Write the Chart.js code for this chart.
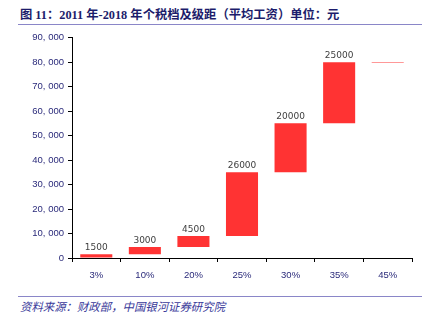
<!DOCTYPE html>
<html><head><meta charset="utf-8">
<script src="https://cdn.jsdelivr.net/npm/chart.js@4/dist/chart.umd.min.js"></script>
<style>
html,body{margin:0;padding:0;background:#fff;width:425px;height:331px;overflow:hidden;}
#title{position:absolute;left:20px;top:5px;font-family:"Liberation Serif","Noto Sans CJK SC",serif;font-weight:bold;font-size:12.3px;color:#1c1c6b;white-space:nowrap;}
#tline{position:absolute;left:18px;top:24px;width:404px;height:1px;background:#8a86c8;}
#fline{position:absolute;left:18px;top:296px;width:404px;height:1px;background:#8a86c8;}
#src{position:absolute;left:20px;top:298px;font-family:"Noto Sans CJK SC",sans-serif;font-style:italic;font-size:11.4px;color:#3a3a9a;white-space:nowrap;}
#wrap{position:absolute;left:0;top:28px;width:425px;height:262px;}
</style></head><body>
<div id="title">图 11：2011 年-2018 年个税档及级距（平均工资）单位：元</div>
<div id="tline"></div>
<div id="wrap"><canvas id="c" width="425" height="262"></canvas></div>
<div id="fline"></div>
<div id="src">资料来源：财政部，中国银河证券研究院</div>
<script>
const categories = ["3%","10%","20%","25%","30%","35%","45%"];
const lowValues  = [0, 1500, 4500, 9000, 35000, 55000, 79900];
const highValues = [1500, 4500, 9000, 35000, 55000, 80000, 80100];
const barLabels  = ["1500","3000","4500","26000","20000","25000",""];

const labelPlugin = {
  id:'barLabels',
  afterDatasetsDraw(chart){
    const ctx = chart.ctx;
    const meta = chart.getDatasetMeta(0);
    ctx.save();
    ctx.font = '9px "DejaVu Sans", sans-serif';
    ctx.fillStyle = '#404040';
    ctx.textAlign = 'center';
    ctx.textBaseline = 'bottom';
    meta.data.forEach((bar,i)=>{
      if(!barLabels[i]) return;
      const top = Math.min(bar.y, bar.base);
      ctx.fillText(barLabels[i], bar.x, top - 2);
    });
    ctx.restore();
  }
};

new Chart(document.getElementById('c'), {
  type:'bar',
  data:{
    labels: categories,
    datasets:[{
      data: categories.map((c,i)=>[lowValues[i], highValues[i]]),
      backgroundColor:'#ff3333',
      borderWidth:0,
      barPercentage:0.66,
      categoryPercentage:1.0
    }]
  },
  options:{
    responsive:false,
    animation:false,
    events:[],
    layout:{padding:{left:0,right:13,top:9,bottom:0}},
    plugins:{legend:{display:false},tooltip:{enabled:false}},
    scales:{
      x:{
        offset:true,
        grid:{display:true,drawOnChartArea:false,color:'#000',tickLength:4,offset:true},
        border:{display:true,color:'#000',width:1},
        ticks:{color:'#2a2a7a',font:{family:'"Liberation Sans", sans-serif',size:9.5},padding:8,maxRotation:0},
        afterFit(s){s.height=32;}
      },
      y:{
        min:0,max:90000,
        grid:{display:true,drawOnChartArea:false,color:'#000',tickLength:4},
        border:{display:true,color:'#000',width:1},
        ticks:{stepSize:10000,color:'#2a2a7a',font:{family:'"Liberation Sans", sans-serif',size:9.5},padding:4,
          callback:(v)=> v===0 ? '0' : Math.floor(v/1000)+', '+String(v%1000).padStart(3,'0')},
        afterFit(s){s.width=72;}
      }
    }
  },
  plugins:[labelPlugin]
});
</script>
</body></html>
